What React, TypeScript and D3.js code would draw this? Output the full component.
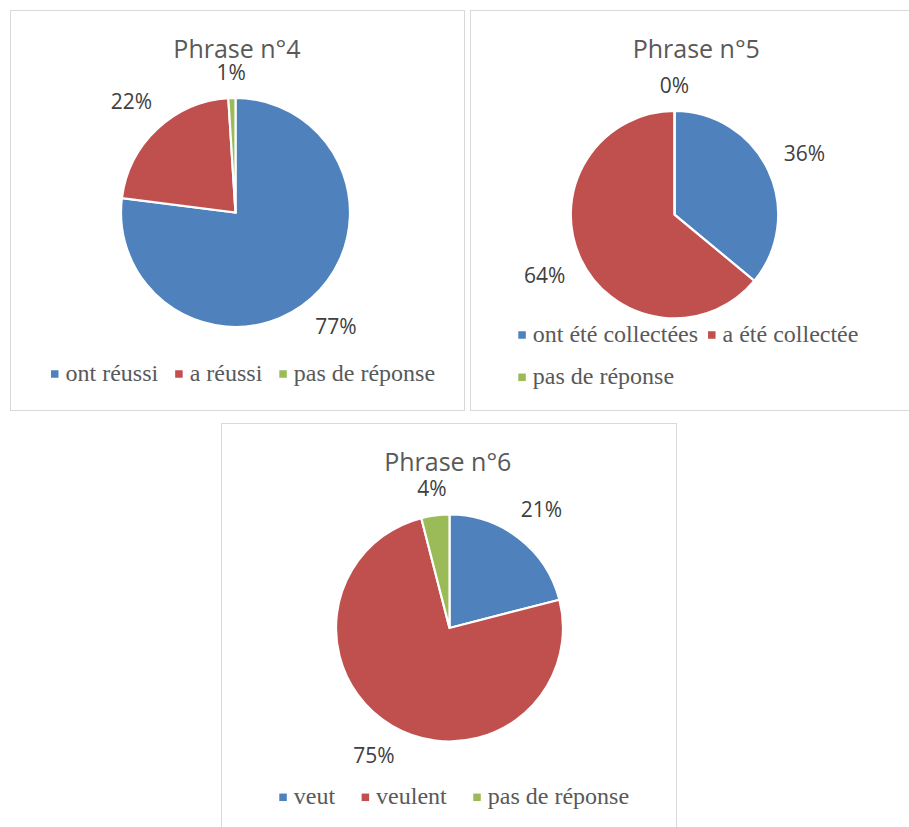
import { arc, pie } from "d3";
import type { PieArcDatum } from "d3";
import { useMemo } from "react";

const W = 909;
const H = 827;

const SLICE_COLORS = ["#4F81BD", "#C0504D", "#9BBB59"];

const titles = ["Phrase n°4", "Phrase n°5", "Phrase n°6"];

const phrase4Labels = ["ont réussi", "a réussi", "pas de réponse"];
const phrase4Values = [77, 22, 1];

const phrase5Labels = ["ont été collectées", "a été collectée", "pas de réponse"];
const phrase5Values = [36, 64, 0];

const phrase6Labels = ["veut", "veulent", "pas de réponse"];
const phrase6Values = [21, 75, 4];

const SANS = "Open Sans, DejaVu Sans, sans-serif";
const SERIF = "Liberation Serif, Times New Roman, serif";
const LEGEND_SIZE = 24;
const LABEL_SIZE = 21;

// panel geometry (frame, pie, title, legend) – layout only, no data
const PANELS = [
  { x: 10, y: 10, w: 454, h: 400, cx: 235.5, cy: 212.5, r: 114.5, titleX: 237, titleY: 58.3,
    legendX: 51, legendY: [381], itemGap: 17, rows: [[0, 1, 2]] },
  { x: 470, y: 10, w: 450, h: 400, cx: 674.5, cy: 214.7, r: 103.7, titleX: 696.3, titleY: 58.3,
    legendX: 518.3, legendY: [342, 384.3], itemGap: 10, rows: [[0, 1], [2]] },
  { x: 221, y: 423, w: 455, h: 420, cx: 449.5, cy: 628, r: 113.5, titleX: 447.8, titleY: 471,
    legendX: 279.3, legendY: [804.3], itemGap: 26.5, rows: [[0, 1, 2]] },
];

const series = [
  { labels: phrase4Labels, values: phrase4Values },
  { labels: phrase5Labels, values: phrase5Values },
  { labels: phrase6Labels, values: phrase6Values },
];

let ctx: CanvasRenderingContext2D | null = null;
function measure(text: string, font: string) {
  if (!ctx) ctx = document.createElement("canvas").getContext("2d");
  if (!ctx) return text.length * 10;
  ctx.font = font;
  return ctx.measureText(text).width;
}

function PieChart({ idx }: { idx: number }) {
  const p = PANELS[idx];
  const { labels, values } = series[idx];
  const total = values.reduce((a, b) => a + b, 0);

  const arcs = useMemo(
    () => pie<number>().sort(null).value((d) => d)(values),
    [values]
  );
  const sliceArc = arc<PieArcDatum<number>>().innerRadius(0).outerRadius(p.r);

  const labelFont = `${LABEL_SIZE}px ${SANS}`;
  const legendFont = `${LEGEND_SIZE}px ${SERIF}`;

  return (
    <g>
      <rect x={p.x + 0.5} y={p.y + 0.5} width={p.w} height={p.h} fill="#fff" stroke="#d9d9d9" strokeWidth={1} />
      <text x={p.titleX} y={p.titleY} textAnchor="middle" style={{ fontFamily: SANS, fontSize: 25 }} fill="#595959">
        {titles[idx]}
      </text>
      <g transform={`translate(${p.cx},${p.cy})`}>
        {arcs.map((a, i) => (
          <path key={i} d={sliceArc(a) ?? ""} fill={SLICE_COLORS[i]} stroke="#fff" strokeWidth={2.2} strokeLinejoin="miter" />
        ))}
        {arcs.map((a, i) => {
          const txt = `${Math.round((a.value / total) * 100)}%`;
          const mid = (a.startAngle + a.endAngle) / 2;
          const s = Math.sin(mid);
          const c = Math.cos(mid);
          const tw = measure(txt, labelFont);
          // push the label box just outside the rim, along the slice's mid angle
          const ext = Math.abs(s) * (tw / 2) + Math.abs(c) * 7.5;
          const d = p.r + 18 + ext;
          return (
            <text key={`l${i}`} x={s * d} y={-c * d} dy="0.36em" textAnchor="middle"
              style={{ fontFamily: SANS, fontSize: LABEL_SIZE }} fill="#404040">
              {txt}
            </text>
          );
        })}
      </g>
      {p.rows.map((row, ri) => {
        let cursor = p.legendX;
        const base = p.legendY[ri];
        return (
          <g key={`r${ri}`}>
            {row.map((k) => {
              const sx = cursor;
              const tw = measure(labels[k], legendFont);
              cursor = sx + 14.5 + tw + p.itemGap;
              return (
                <g key={k}>
                  <rect x={sx} y={base - 7 - 3.75} width={7.5} height={7.5} fill={SLICE_COLORS[k]} />
                  <text x={sx + 14.5} y={base} style={{ fontFamily: SERIF, fontSize: LEGEND_SIZE }} fill="#595959">
                    {labels[k]}
                  </text>
                </g>
              );
            })}
          </g>
        );
      })}
    </g>
  );
}

export default function App() {
  return (
    <svg width={W} height={H} viewBox={`0 0 ${W} ${H}`}
      style={{ position: "absolute", left: 0, top: 0, background: "#fff" }}>
      <rect width={W} height={H} fill="#fff" />
      {PANELS.map((_, i) => (
        <PieChart key={i} idx={i} />
      ))}
    </svg>
  );
}
